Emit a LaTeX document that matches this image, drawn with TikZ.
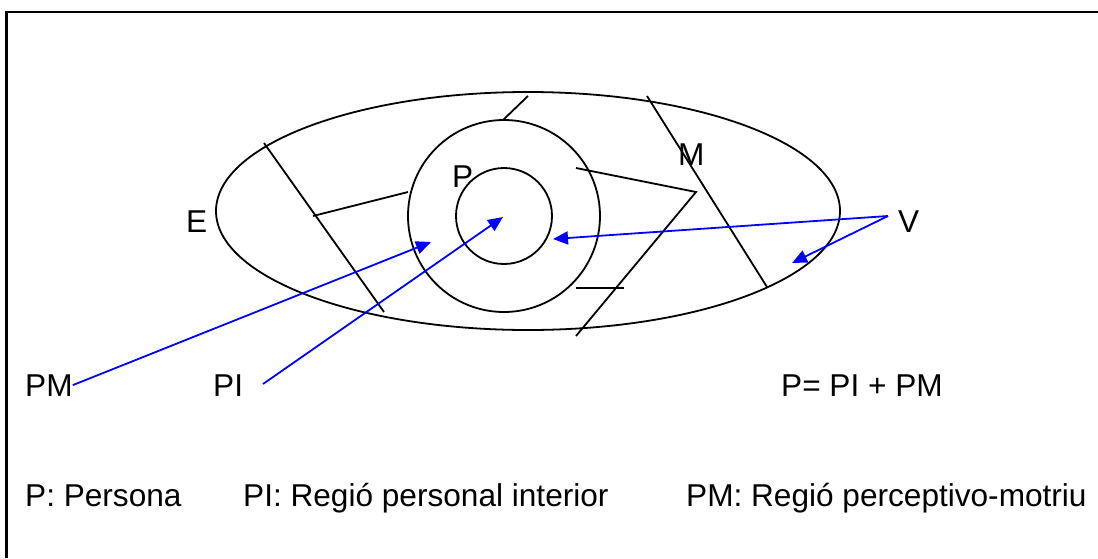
\documentclass[tikz,border=0pt]{standalone}
\usepackage{fontspec}
\setmainfont{Liberation Sans}
\usetikzlibrary{shapes.geometric, arrows.meta, positioning}

\begin{document}
\begin{tikzpicture}[x=1pt, y=-1pt, font=\fontsize{31.6}{38}\selectfont]

	\definecolor{my_blue}{RGB}{0,0,255}

\tikzstyle{region} = [draw, line width=1.8pt, inner sep=0pt, outer sep=0pt]
\tikzstyle{cut} = [draw, line width=1.8pt]
\tikzstyle{label} = [inner sep=0pt, anchor=base west]
\tikzstyle{line} = [draw, my_blue, line width=1.8pt, -{Triangle[length=15pt, width=13pt]}]

	\useasboundingbox (0,0) rectangle (1098,558);
	\draw [line width=2.2pt] (6.5,558) |- (1098,12);

	\node [region, ellipse, minimum width=624pt, minimum height=238pt] (entorn) at (528,211) {};
	\node [region, circle, minimum size=192pt] (persona) at (504,216) {};
	\node [region, circle, minimum size=96pt] (interior) at (504,216) {};

	% fronteres
	\draw [cut] (528,96) -- (503,120);
	\draw [cut] (264,143) -- (384,312);
	\draw [cut] (313,216) -- (408,192);
	\draw [cut] (576,168) -- (696,192) -- (576,336);
	\draw [cut] (576,288) -- (624,288);
	\draw [cut] (647,96) -- (767,287);

	\node [label] (e) at (186,232) {E};
	\node [label] (p) at (452,187) {P};
	\node [label] (m) at (678,165) {M};
	\node [label] (v) at (898,232) {V};
	\node [label] (pm) at (25,396) {PM};
	\node [label] (pi) at (213,396) {PI};
	\node [label] (suma) at (781,396) {P= PI + PM};

	\node [label] (llegenda_p) at (25,506) {P: Persona};
	\node [label] (llegenda_pi) at (243,506) {PI: Regió personal interior};
	\node [label] (llegenda_pm) at (686,506) {PM: Regió perceptivo-motriu};

	\coordinate (c_pi) at (263,384);
	\coordinate (c_v) at (888,216);
	\coordinate (t_pm) at (431,242);
	\coordinate (t_pi) at (503,217);
	\coordinate (t_v1) at (553,239);
	\coordinate (t_v2) at (792,263);

	\path [line] (pm.east) -- (t_pm);
	\path [line] (c_pi) -- (t_pi);
	\path [line] (c_v) -- (t_v1);
	\path [line] (c_v) -- (t_v2);

\end{tikzpicture}
\end{document}
